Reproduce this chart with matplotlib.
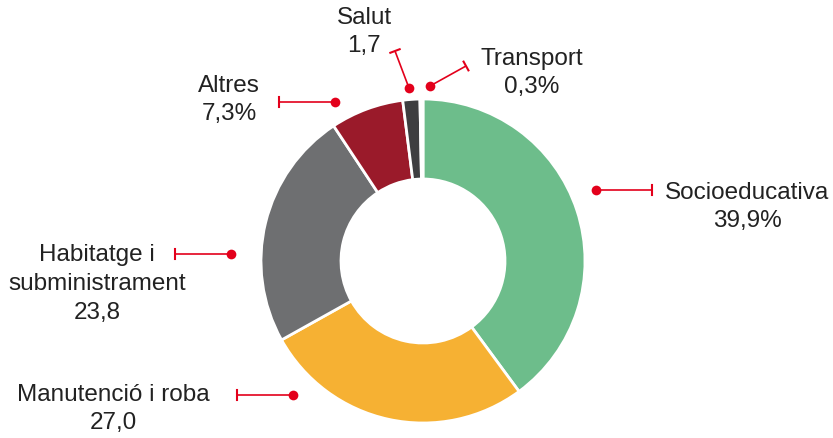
"""Donut chart: distribution of spending by area (recreated)."""

import matplotlib.pyplot as plt

categories = ["Socioeducativa", "Manutenció i roba", "Habitatge i\nsubministrament",
              "Altres", "Salut", "Transport"]
values = [39.9, 27.0, 23.8, 7.3, 1.7, 0.3]
value_labels = ["39,9%", "27,0", "23,8", "7,3%", "1,7", "0,3%"]
colors = ["#6dbd8b", "#f6b133", "#6e6f71", "#9a1a2a", "#3e3e40", "#ffffff"]

# layout in image pixels (y measured from top): label centre, dot, bar end
label_pos = [(747, 207), (113, 409), (97, 284), (229, 100), (364, 32), (532, 73)]
dot_pos = [(596, 191), (293, 396), (231, 255), (335, 103), (409, 89), (430, 87)]
cap_pos = [(652, 191), (237, 396), (175, 255), (279, 103), (395, 52), (466, 67)]

W, H = 833, 439
RED = "#e3001b"
TEXT = "#222222"

fig = plt.figure(figsize=(W / 100, H / 100), dpi=100)
ax = fig.add_axes([0, 0, 1, 1])

ax.pie(values, colors=colors, startangle=90, counterclock=False,
       center=(423, H - 262), radius=162,
       wedgeprops=dict(width=80, edgecolor="white", linewidth=2))


def flip(p):
    return p[0], H - p[1]


for (dx, dy), (cx, cy) in zip(map(flip, dot_pos), map(flip, cap_pos)):
    ax.plot([dx, cx], [dy, cy], color=RED, lw=1.2, solid_capstyle="butt")
    ax.plot(dx, dy, "o", color=RED, ms=7, mec="none")
    # short perpendicular bar at the far end
    vx, vy = cx - dx, cy - dy
    n = (vx ** 2 + vy ** 2) ** 0.5
    px, py = -vy / n * 5, vx / n * 5
    ax.plot([cx - px, cx + px], [cy - py, cy + py], color=RED, lw=1.5)

for name, val, pos in zip(categories, value_labels, label_pos):
    x, y = flip(pos)
    ax.text(x, y, f"{name}\n{val}", ha="center", va="center", fontsize=17.5,
            family="Liberation Sans", color=TEXT, linespacing=1.4)

ax.set_xlim(0, W)
ax.set_ylim(0, H)
ax.set_aspect("equal")
ax.axis("off")

fig.savefig("out.png", dpi=100)
